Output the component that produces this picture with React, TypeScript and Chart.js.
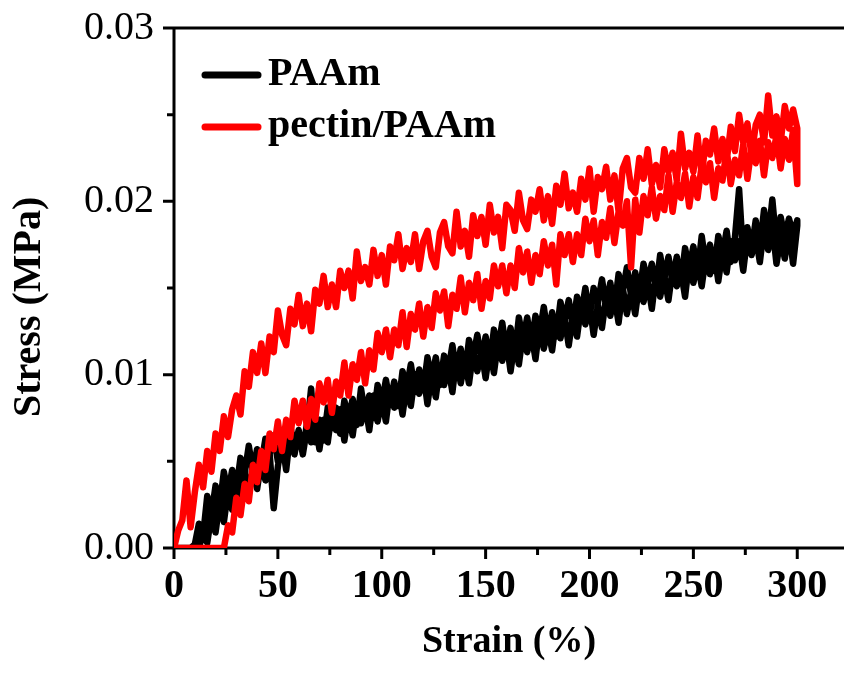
import React, { useEffect, useRef } from 'react';
import { Chart, registerables } from 'chart.js';

Chart.register(...registerables);

// Strain (%) sampling of the loading branch; the unloading branch runs back over the same strains.
const strainLoad = [0,2,4,6,8,10,12,14,16,18,20,22,24,26,28,30,32,34,36,38,40,42,44,46,48,50,52,54,56,58,60,62,64,66,68,70,72,74,76,78,80,82,84,86,88,90,92,94,96,98,100,102,104,106,108,110,112,114,116,118,120,122,124,126,128,130,132,134,136,138,140,142,144,146,148,150,152,154,156,158,160,162,164,166,168,170,172,174,176,178,180,182,184,186,188,190,192,194,196,198,200,202,204,206,208,210,212,214,216,218,220,222,224,226,228,230,232,234,236,238,240,242,244,246,248,250,252,254,256,258,260,262,264,266,268,270,272,274,276,278,280,282,284,286,288,290,292,294,296,298,300];

// Stress in kPa (0.001 MPa), loading branch, strain 0 -> 300
const pectinLoadKPa = [
  0, 1.0, 1.6, 3.9, 1.2, 3.2, 4.8, 3.5, 5.6, 4.4,
  6.6, 5.6, 7.6, 6.4, 8.0, 8.8, 7.7, 10.2, 9.3, 11.3,
  10.1, 11.8, 10.1, 12.2, 11.3, 13.7, 12.3, 11.7, 13.8, 12.9,
  14.6, 12.8, 14.1, 12.5, 14.9, 14.1, 15.7, 13.9, 15.2, 13.9,
  16.0, 15.0, 16.0, 14.4, 17.1, 15.4, 16.2, 15.2, 17.2, 15.7,
  16.9, 15.2, 17.4, 16.6, 18.1, 16.1, 17.3, 16.5, 18.1, 16.1,
  17.7, 18.3, 16.8, 16.2, 18.2, 18.8, 17.4, 17.0, 19.4, 17.4,
  18.3, 16.8, 19.2, 18.0, 19.1, 17.5, 19.8, 18.2, 19.1, 17.3,
  19.8, 19.5, 18.3, 20.5, 18.9, 18.4, 20.1, 19.4, 20.7, 18.9,
  20.3, 18.7, 20.9, 19.8, 21.6, 19.6, 20.5, 19.4, 21.3, 20.1,
  21.9, 19.4, 21.4, 20.7, 22.0, 20.1, 21.5, 19.4, 21.9, 22.5,
  20.8, 20.5, 22.5, 21.3, 23.0, 21.0, 22.1, 20.8, 23.0, 21.7,
  22.8, 21.2, 23.9, 21.9, 22.8, 21.7, 23.8, 21.5, 23.5, 22.7,
  24.2, 22.3, 23.6, 22.3, 24.3, 22.9, 25.0, 23.4, 24.5, 22.6,
  24.4, 25.0, 23.4, 26.1, 23.8, 24.9, 23.4, 25.5, 24.2, 25.3,
  24.2,
];

// Stress in kPa, unloading branch, strain 300 -> 0
const pectinUnloadKPa = [
  21.0, 24.1, 22.4, 23.6, 21.9, 23.8, 22.5, 23.4, 21.5, 23.5,
  22.2, 23.1, 21.3, 23.3, 21.5, 22.4, 21.0, 23.0, 21.2, 21.9,
  20.2, 22.2, 21.1, 22.1, 20.2, 21.4, 19.7, 21.6, 20.2, 21.1,
  19.4, 21.5, 19.5, 20.3, 19.0, 20.8, 19.2, 20.3, 18.2, 20.1,
  16.2, 20.0, 18.6, 19.4, 17.6, 19.6, 17.9, 18.8, 16.9, 18.9,
  17.7, 19.0, 16.9, 18.1, 16.5, 18.1, 16.9, 18.1, 15.2, 17.5,
  16.3, 17.7, 15.8, 16.9, 15.3, 17.1, 15.9, 17.3, 15.0, 16.3,
  14.7, 16.3, 15.1, 16.3, 14.4, 15.4, 13.8, 15.8, 14.3, 15.3,
  13.6, 15.6, 13.8, 14.6, 12.8, 14.8, 13.7, 14.7, 12.7, 13.9,
  12.2, 14.1, 12.6, 13.5, 11.6, 13.6, 11.7, 12.6, 11.0, 12.6,
  11.3, 12.4, 10.3, 11.4, 9.5, 11.3, 9.7, 10.6, 8.8, 10.7,
  8.8, 9.6, 7.8, 9.7, 8.4, 9.5, 7.4, 8.6, 7.0, 8.5,
  7.2, 8.5, 6.4, 7.4, 5.6, 7.3, 5.7, 6.6, 4.5, 5.6,
  3.8, 4.8, 2.7, 3.7, 1.9, 2.9, 0.9, 1.3, 0, 0,
  0, 0, 0, 0, 0, 0, 0, 0, 0, 0, 0,
];

const paamLoadKPa = [
  0, 0, 0, 0, 0, 0.2, 1.4, 0.7, 3.0, 1.9,
  3.6, 2.4, 4.4, 3.1, 4.5, 3.4, 5.2, 4.3, 5.9, 4.4,
  5.7, 4.8, 6.3, 5.4, 6.5, 5.0, 6.5, 5.3, 7.0, 5.8,
  6.8, 5.4, 6.9, 9.2, 6.1, 7.4, 6.2, 8.1, 6.9, 8.1,
  6.6, 8.5, 7.5, 8.6, 7.1, 9.2, 7.7, 8.8, 7.5, 9.4,
  8.3, 9.7, 8.3, 9.6, 8.2, 10.2, 9.2, 10.6, 9.0, 10.3,
  9.1, 11.0, 9.7, 11.0, 9.4, 11.1, 10.2, 11.7, 10.1, 11.5,
  10.0, 12.0, 11.0, 12.3, 10.8, 12.2, 10.7, 12.6, 11.5, 13.0,
  11.3, 12.7, 11.1, 13.3, 12.0, 13.3, 11.8, 13.4, 12.4, 13.9,
  12.2, 13.6, 12.2, 14.2, 13.1, 14.3, 12.8, 14.5, 13.5, 15.0,
  13.3, 15.0, 14.1, 15.5, 13.9, 15.3, 13.8, 15.8, 14.8, 16.2,
  14.6, 15.9, 14.6, 16.4, 15.3, 16.4, 14.9, 16.9, 15.5, 16.8,
  15.4, 16.8, 15.3, 17.3, 16.1, 17.4, 15.8, 18.0, 16.3, 17.5,
  16.0, 18.0, 16.9, 18.3, 16.5, 17.9, 20.7, 16.7, 18.5, 17.2,
  18.9, 17.3, 19.5, 17.8, 20.1, 17.5, 19.1, 17.9, 19.0, 18.1, 18.9,
];

const paamUnloadKPa = [
  18.6,
  16.4, 18.4, 16.7, 17.9, 16.4, 18.6, 17.2, 18.5, 16.5, 18.0,
  16.9, 18.0, 16.0, 17.7, 16.6, 17.7, 15.9, 17.1, 15.4, 17.1,
  15.8, 16.8, 15.1, 16.5, 15.3, 16.6, 14.5, 16.0, 15.1, 16.1,
  14.3, 15.7, 14.5, 15.8, 13.8, 15.4, 14.2, 15.3, 13.5, 14.8,
  13.5, 15.0, 13.0, 14.5, 13.4, 14.5, 12.7, 14.0, 12.3, 14.1,
  12.9, 14.0, 12.2, 13.4, 11.7, 13.3, 12.1, 13.3, 11.4, 12.7,
  11.5, 12.9, 10.9, 12.4, 11.3, 12.4, 10.6, 11.9, 10.2, 12.0,
  10.8, 11.9, 10.1, 11.5, 9.8, 11.4, 10.2, 11.3, 9.5, 10.8,
  9.5, 11.0, 9.0, 10.5, 9.4, 10.5, 8.7, 10.0, 8.3, 10.1,
  8.9, 10.0, 8.2, 9.4, 7.7, 9.3, 8.1, 9.2, 7.3, 8.6,
  7.3, 8.8, 6.8, 8.3, 7.2, 8.3, 6.5, 7.8, 6.2, 8.0,
  6.8, 7.9, 6.1, 7.4, 5.7, 7.3, 6.1, 7.2, 5.5, 6.8,
  5.4, 6.7, 4.5, 6.2, 4.7, 2.3, 5.5, 3.9, 5.0, 3.4,
  4.8, 3.1, 4.3, 2.6, 3.9, 2.2, 3.3, 1.5, 2.7, 0.9,
  1.9, 0.3, 0.9, 0, 0, 0, 0, 0, 0, 0,
];

const seriesLabels = ['PAAm', 'pectin/PAAm'];
const seriesColors = ['#000000', '#ff0000'];
const xMinorTicks = [25, 75, 125, 175, 225, 275];
const yMinorTicks = [0.005, 0.015, 0.025];

const FONT = '"Liberation Serif", "Times New Roman", serif';

const loop = (load: number[], unload: number[]) => {
  const strainUnload = [...strainLoad].reverse();
  return [
    ...strainLoad.map((s, i) => ({ x: s, y: load[i] / 1000 })),
    ...strainUnload.map((s, i) => ({ x: s, y: unload[i] / 1000 })),
  ];
};

const framePlugin = {
  id: 'originFrame',
  beforeDatasetsDraw(chart: any) {
    const { ctx, chartArea: a, scales } = chart;
    const x = scales.x;
    const y = scales.y;
    ctx.save();
    ctx.strokeStyle = '#000';
    ctx.lineWidth = 3;
    ctx.lineCap = 'butt';
    ctx.beginPath();
    ctx.moveTo(a.left, a.top - 1.5);
    ctx.lineTo(a.left, a.bottom + 1.5);
    ctx.moveTo(a.left - 1.5, a.bottom);
    ctx.lineTo(a.right, a.bottom);
    ctx.moveTo(a.left - 1.5, a.top);
    ctx.lineTo(a.right, a.top);
    x.ticks.forEach((t: any) => {
      const px = x.getPixelForValue(t.value);
      ctx.moveTo(px, a.bottom);
      ctx.lineTo(px, a.bottom + 11);
    });
    xMinorTicks.forEach((v) => {
      const px = x.getPixelForValue(v);
      ctx.moveTo(px, a.bottom);
      ctx.lineTo(px, a.bottom + 7);
    });
    y.ticks.forEach((t: any) => {
      const py = y.getPixelForValue(t.value);
      ctx.moveTo(a.left, py);
      ctx.lineTo(a.left - 11, py);
    });
    yMinorTicks.forEach((v) => {
      const py = y.getPixelForValue(v);
      ctx.moveTo(a.left, py);
      ctx.lineTo(a.left - 7, py);
    });
    ctx.stroke();
    ctx.restore();
  },
  afterDraw(chart: any) {
    const { ctx, chartArea: a } = chart;
    ctx.save();
    ctx.fillStyle = '#000';
    ctx.font = `bold 40px ${FONT}`;
    ctx.translate(29.5, 417);
    ctx.rotate(-Math.PI / 2);
    ctx.textAlign = 'left';
    ctx.textBaseline = 'middle';
    ctx.fillText('Stress (MPa)', 0, 0);
    ctx.restore();

    ctx.save();
    ctx.lineWidth = 7;
    ctx.lineCap = 'round';
    const rows = [a.top + 47, a.top + 99];
    seriesLabels.forEach((label, i) => {
      const ly = rows[i];
      ctx.strokeStyle = seriesColors[i];
      ctx.beginPath();
      ctx.moveTo(a.left + 31, ly);
      ctx.lineTo(a.left + 84, ly);
      ctx.stroke();
      ctx.fillStyle = '#000';
      ctx.font = `bold 40px ${FONT}`;
      ctx.textAlign = 'left';
      ctx.textBaseline = 'alphabetic';
      ctx.fillText(label, a.left + 94, ly + 10);
    });
    ctx.restore();
  },
};

export default function App() {
  const ref = useRef<HTMLCanvasElement>(null);
  useEffect(() => {
    const canvas = ref.current;
    if (!canvas) return;
    const lineStyle = {
      showLine: true,
      borderWidth: 6.5,
      pointRadius: 0,
      borderJoinStyle: 'round',
      borderCapStyle: 'round',
      tension: 0,
    };
    const chart = new Chart(canvas, {
      type: 'scatter',
      data: {
        datasets: [
          {
            ...lineStyle,
            label: seriesLabels[1],
            data: loop(pectinLoadKPa, pectinUnloadKPa),
            borderColor: seriesColors[1],
            backgroundColor: seriesColors[1],
            order: 1,
          },
          {
            ...lineStyle,
            label: seriesLabels[0],
            data: loop(paamLoadKPa, paamUnloadKPa),
            borderColor: seriesColors[0],
            backgroundColor: seriesColors[0],
            order: 2,
          },
        ],
      } as any,
      options: {
        animation: false,
        responsive: false,
        maintainAspectRatio: false,
        events: [],
        layout: { padding: { top: 28, left: 0, right: 0, bottom: 0 } },
        plugins: { legend: { display: false }, tooltip: { enabled: false } },
        scales: {
          x: {
            type: 'linear',
            min: 0,
            max: 322.5,
            afterFit: (s: any) => { s.height = 125; s.paddingLeft = 0; s.paddingRight = 0; },
            grid: { display: false, drawTicks: false },
            border: { display: false },
            ticks: {
              stepSize: 50,
              includeBounds: false,
              autoSkip: false,
              maxRotation: 0,
              padding: 15,
              color: '#000',
              font: { family: FONT, size: 40, weight: 'bold' },
            },
            title: {
              display: true,
              text: 'Strain (%)',
              color: '#000',
              font: { family: FONT, size: 38, weight: 'bold' },
              padding: { top: 0, bottom: 8 },
            },
          },
          y: {
            type: 'linear',
            min: 0,
            max: 0.03,
            afterFit: (s: any) => { s.width = 174; s.paddingTop = 0; s.paddingBottom = 0; },
            grid: { display: false, drawTicks: false },
            border: { display: false },
            ticks: {
              stepSize: 0.01,
              includeBounds: false,
              padding: 20,
              color: '#000',
              font: { family: FONT, size: 40, weight: 'normal' },
              callback: (v: any) => Number(v).toFixed(2),
            },
          },
        },
      } as any,
      plugins: [framePlugin],
    });
    return () => chart.destroy();
  }, []);

  return (
    <div style={{ position: 'absolute', left: 0, top: 0, width: 844, height: 673, background: '#fff' }}>
      <canvas ref={ref} width={844} height={673} style={{ display: 'block', width: 844, height: 673 }} />
    </div>
  );
}
